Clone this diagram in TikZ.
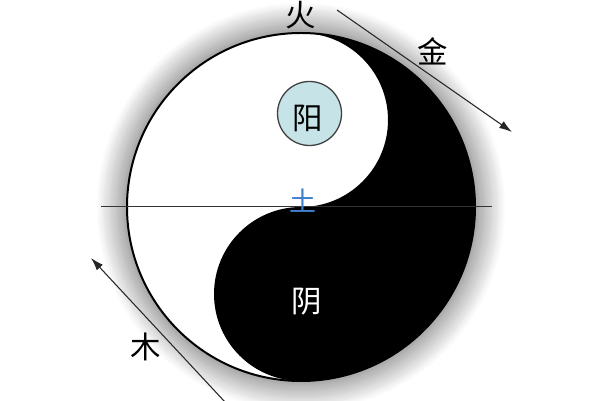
\documentclass[tikz,border=0pt]{standalone}
\usepackage{fontspec}
\newfontfamily\cjk{Noto Sans CJK SC}
\usetikzlibrary{arrows.meta}
\definecolor{yangblue}{HTML}{C6E3E7}
\definecolor{tublue}{HTML}{3F7FCC}
\begin{document}
\begin{tikzpicture}[x=0.03cm,y=0.03cm,
  lbl/.style={font=\cjk\fontsize{26}{26}\selectfont, inner sep=0pt},
  arr/.style={draw=black!85, line width=0.9pt, -{Latex[length=11pt,width=7pt]}}]
\useasboundingbox[fill=white] (0,0) rectangle (600,400);
\coordinate (C) at (301,193);
% halo
\foreach \i in {0,...,30}{
  \pgfmathtruncatemacro{\g}{1.15*\i}
  \fill[black!\g] (C) circle[radius={205-\i}];
}
% yin-yang
\fill[white] (C) circle[radius=174];
\fill[black] (301,367) arc[start angle=90,end angle=-90,radius=174]
  arc[start angle=270,end angle=90,radius=87]
  arc[start angle=-90,end angle=90,radius=87] -- cycle;
\draw[line width=1.7pt] (C) circle[radius=174];
% horizontal line
\coordinate (hl) at (101,194);
\coordinate (hr) at (492,194);
\draw[black!80, line width=0.8pt] (hl) -- (hr);
% yang circle
\node (yangc) [circle, draw=black!75, line width=1.1pt, fill=yangblue,
  minimum size=1.92cm, inner sep=0pt] at (309.5,286.5) {};
\node[lbl] (yang) at (308,282) {阳};
\node[lbl, text=white] (yin) at (307,98) {阴};
\node[lbl, text=tublue, font=\cjk\fontsize{23}{23}\selectfont] (tu) at (303,199) {土};
\node[lbl] (huo) at (301,385) {火};
\node[lbl] (jin) at (433,349) {金};
\node[lbl] (mu) at (146,53) {木};
% arrows
\coordinate (a1s) at (337,390);
\coordinate (a1e) at (512,268);
\coordinate (a2s) at (225,-2);
\coordinate (a2e) at (91,142);
\draw[arr] (a1s) -- (a1e);
\draw[arr] (a2s) -- (a2e);
\end{tikzpicture}
\end{document}
